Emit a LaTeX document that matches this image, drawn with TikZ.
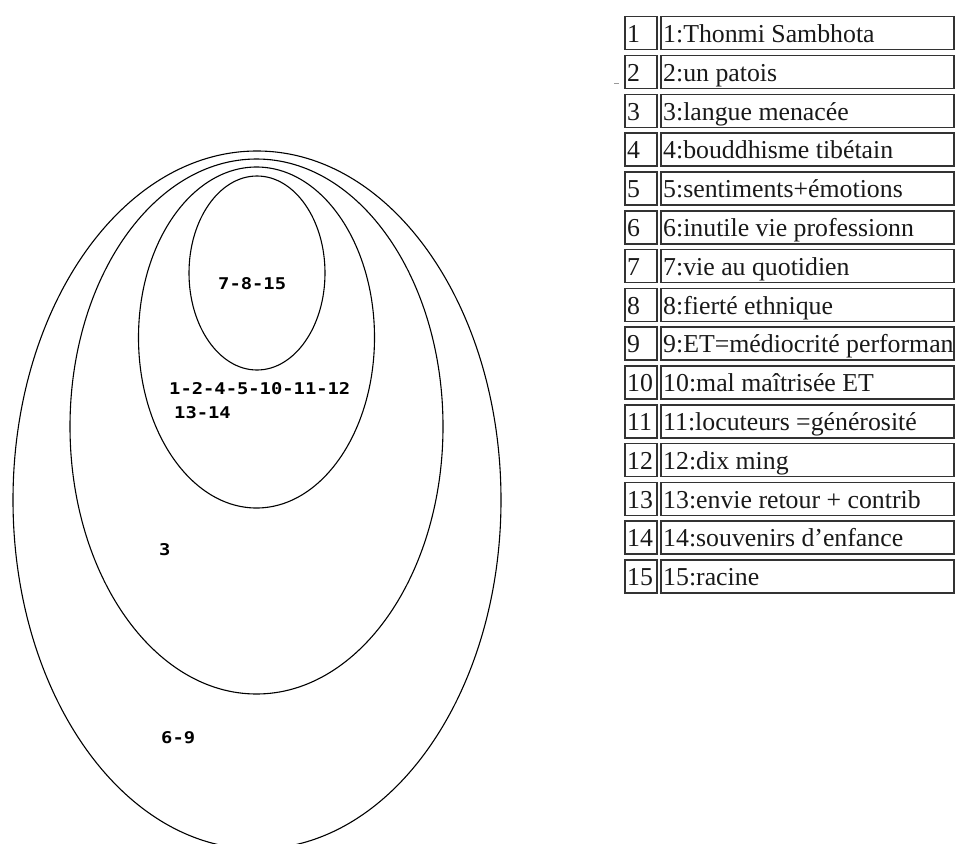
\documentclass[tikz,border=0pt]{standalone}
\usepackage{fontspec}
\setmainfont{Liberation Serif}
\newfontfamily\pixfont{DejaVu Sans Mono}
\usetikzlibrary{shapes.geometric}
\newcommand{\setlbl}[1]{\scalebox{1}[0.86]{#1}}
\begin{document}
\begin{tikzpicture}[x=1pt,y=-1pt,
  ring/.style={draw=black, line width=1.1pt, ellipse, inner sep=0pt, outer sep=0pt},
  setlabel/.style={font=\pixfont\bfseries\fontsize{18.8}{20}\selectfont, anchor=west, inner sep=0pt},
  cellbox/.style={draw=black!80, line width=1.5pt, inner sep=0pt, anchor=north west, minimum height=33pt},
  celltext/.style={font=\fontsize{25.8}{28}\selectfont, anchor=base west, inner sep=0pt, text=black!90}]
\useasboundingbox (0,0) rectangle (957,843);
% nested ellipses
\node[ring, minimum width=488pt, minimum height=698pt] (e1) at (257,500) {};
\node[ring, minimum width=373pt, minimum height=535pt] (e2) at (256.5,426.5) {};
\node[ring, minimum width=236pt, minimum height=341pt] (e3) at (256.5,337.5) {};
\node[ring, minimum width=136pt, minimum height=194pt] (e4) at (257,273) {};
% set labels
\node[setlabel] (l4) at (218,284) {\setlbl{7-8-15}};
\node[setlabel] (l3a) at (169,389) {\setlbl{1-2-4-5-10-11-12}};
\node[setlabel] (l3b) at (174,413) {\setlbl{13-14}};
\node[setlabel] (l2) at (159,550) {\setlbl{3}};
\node[setlabel] (l1) at (161,738) {\setlbl{6-9}};
% legend table
\foreach \i/\txt in {1/{1:Thonmi Sambhota}, 2/{2:un patois}, 3/{3:langue menacée},
  4/{4:bouddhisme tibétain}, 5/{5:sentiments+émotions}, 6/{6:inutile vie professionn},
  7/{7:vie au quotidien}, 8/{8:fierté ethnique}, 9/{9:ET=médiocrité performan},
  10/{10:mal maîtrisée ET}, 11/{11:locuteurs =générosité}, 12/{12:dix ming},
  13/{13:envie retour + contrib}, 14/{14:souvenirs d’enfance}, 15/{15:racine}} {
  \pgfmathsetmacro\ytop{16+(\i-1)*38.8}
  \node[cellbox, minimum width=32pt] (n\i) at (624,\ytop) {};
  \node[cellbox, minimum width=293pt] (t\i) at (660,\ytop) {};
  \node[celltext] (nl\i) at (627,\ytop+26.5) {\i};
  \node[celltext] (tl\i) at (663,\ytop+26.5) {\txt};
}
\draw[black!40, line width=0.8pt] (614,83) -- (619,83);
\end{tikzpicture}
\end{document}
